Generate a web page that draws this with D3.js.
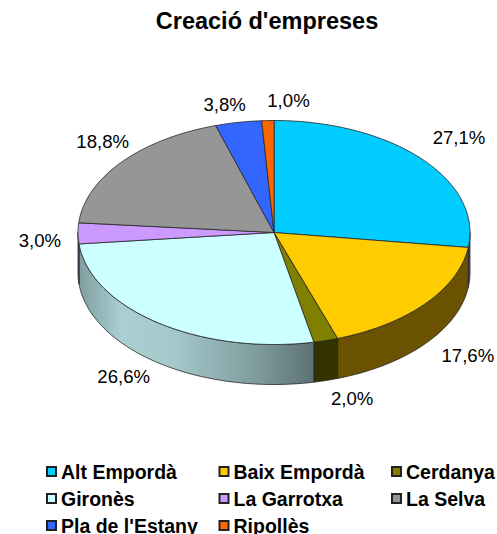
<!DOCTYPE html>
<html><head><meta charset="utf-8">
<script src="https://cdn.jsdelivr.net/npm/d3@7/dist/d3.min.js"></script>
<style>html,body{margin:0;padding:0;background:#fff}svg{display:block}text{font-family:"Liberation Sans",Arial,sans-serif;fill:#000}</style>
</head><body><svg id="c" width="497" height="534"></svg>
<script>
const titleText = "Creació d'empreses";
const categories = ["Alt Empordà","Baix Empordà","Cerdanya","Gironès","La Garrotxa","La Selva","Pla de l'Estany","Ripollès"];
const values = [27.1,17.6,2.0,26.6,3.0,18.8,3.8,1.0];
const colors = ["#00ccff","#ffcc00","#808000","#ccffff","#cc99ff","#969696","#3366ff","#ff6600"];
const sideColors = ["#006680","#6b5200","#333300","url(#wall)","#66507f","#4b4b4b","#1a3380","#803300"];

const W=497,H=534,cx=274,cy=232.5,rx=196,ry=112,depth=40;
const svg=d3.select("#c");
const x=d3.scaleLinear().domain([-1,1]).range([cx-rx,cx+rx]);
const y=d3.scaleLinear().domain([-1,1]).range([cy-ry,cy+ry]);
const fmt=v=>v.toFixed(1).replace(".",",")+"%";
const arcs=d3.pie().sort(null).value(d=>d)(values);

const grad=svg.append("defs").append("linearGradient").attr("id","wall")
 .attr("gradientUnits","userSpaceOnUse").attr("x1",x(-1)).attr("x2",x(0.21)).attr("y1",0).attr("y2",0);
[[0,"#7f9c9e"],[0.18,"#a8cfd1"],[0.4,"#a4c9cb"],[0.75,"#7f9c9e"],[1,"#5c7173"]]
 .forEach(s=>grad.append("stop").attr("offset",s[0]).attr("stop-color",s[1]));

const px=a=>x(Math.sin(a)), py=a=>y(-Math.cos(a));
const samples=(a0,a1)=>{const n=Math.max(2,Math.ceil((a1-a0)/0.02));return d3.range(n+1).map(i=>a0+(a1-a0)*i/n);};
const line=d3.line();

// side walls: only the front-facing half of the rim
const PI=Math.PI;
const wall=svg.append("g");
arcs.forEach((d,i)=>{
  const a0=Math.max(d.startAngle,PI/2),a1=Math.min(d.endAngle,3*PI/2);
  if(a1<=a0) return;
  const s=samples(a0,a1);
  const top=s.map(a=>[px(a),py(a)]);
  const bot=s.slice().reverse().map(a=>[px(a),py(a)+depth]);
  wall.append("path").attr("d",line(top.concat(bot))+"Z")
    .attr("fill",sideColors[i]).attr("stroke","#262626").attr("stroke-width",0.8).attr("stroke-linejoin","round");
});
// top face
const face=svg.append("g");
arcs.forEach((d,i)=>{
  const pts=samples(d.startAngle,d.endAngle).map(a=>[px(a),py(a)]);
  face.append("path").attr("d",line([[cx,cy]].concat(pts))+"Z")
    .attr("fill",colors[i]).attr("stroke","#262626").attr("stroke-width",0.8).attr("stroke-linejoin","round");
});

// data labels
const labelReach=1.22;
const labelNudge=[[5,-5],[9,-4],[15,-6],[-9,-6.5],[5,7],[15,-6],[-6,6],[22,4]];
const lab=svg.append("g").attr("font-size",18.6).attr("text-anchor","middle");
arcs.forEach((d,i)=>{
  const m=(d.startAngle+d.endAngle)/2;
  const lx=cx+rx*labelReach*Math.sin(m)+labelNudge[i][0];
  const ly=cy-ry*labelReach*Math.cos(m)+(Math.cos(m)<-0.1?depth:0)+labelNudge[i][1];
  lab.append("text").attr("x",lx).attr("y",ly).attr("dy","0.36em").text(fmt(values[i]));
});

svg.append("text").attr("x",267).attr("y",29).attr("text-anchor","middle")
  .attr("font-size",23.5).attr("font-weight","bold").text(titleText);

// legend
const colX=d3.scalePoint().domain([0,1,2]).range([46,391]);
const rowY=d3.scalePoint().domain([0,1,2]).range([471.5,525.5]);
const leg=svg.append("g").attr("font-size",19.5).attr("font-weight","bold");
categories.forEach((c,i)=>{
  const lx=colX(i%3),ly=rowY(Math.floor(i/3));
  leg.append("rect").attr("x",lx+1).attr("y",ly-4.5).attr("width",9).attr("height",9)
    .attr("fill",colors[i]).attr("stroke","#222").attr("stroke-width",2);
  leg.append("text").attr("x",lx+15).attr("y",ly).attr("dy","0.36em").text(c);
});
</script></body></html>
